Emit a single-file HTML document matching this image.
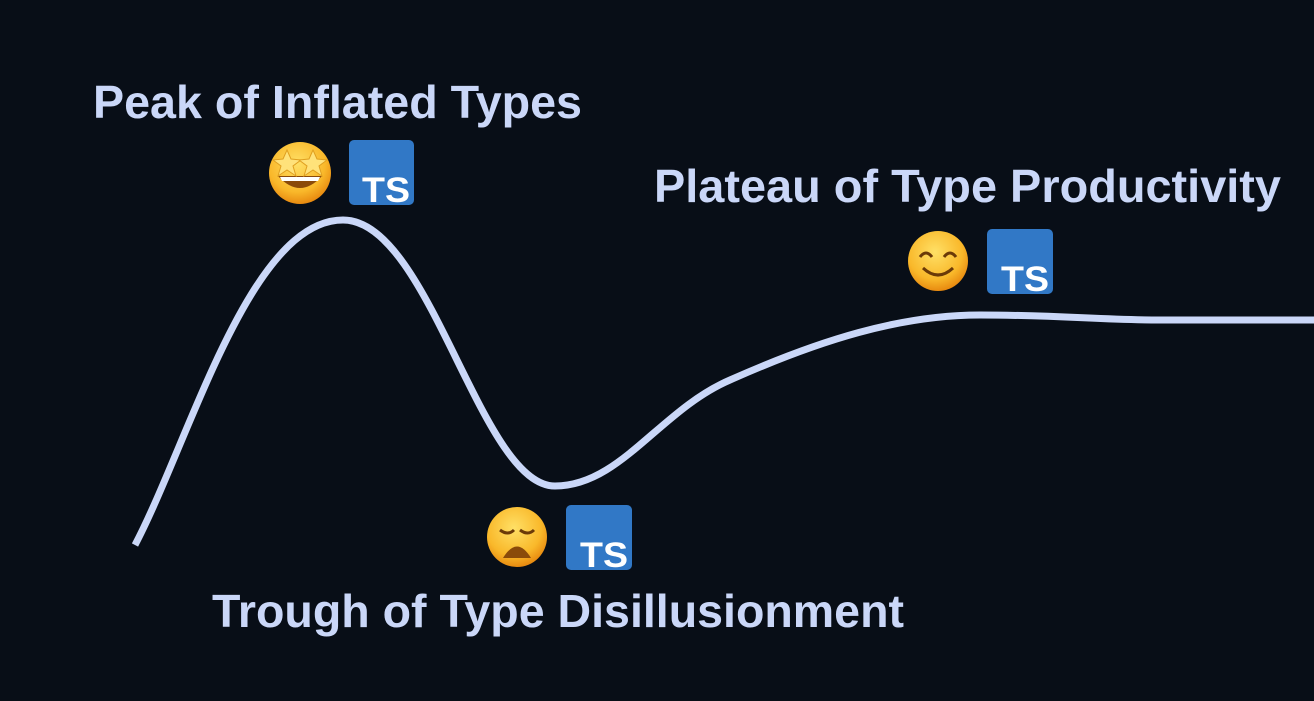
<!DOCTYPE html>
<html><head><meta charset="utf-8"><style>
html,body{margin:0;padding:0;background:#080e17;}
svg{display:block}
text{font-family:"Liberation Sans",sans-serif;font-weight:bold;fill:#cad7f8;}
.ts{font-family:"Liberation Sans",sans-serif;font-weight:bold;fill:#fff;font-size:35px}
</style></head><body>
<svg width="1314" height="701" viewBox="0 0 1314 701" xmlns="http://www.w3.org/2000/svg">
<defs>
<radialGradient id="g" cx="45%" cy="35%" r="65%">
<stop offset="0" stop-color="#ffe066"/><stop offset="0.7" stop-color="#f9b82a"/><stop offset="1" stop-color="#e88a10"/>
</radialGradient>
</defs>
<rect width="1314" height="701" fill="#080e17"/>
<path d="M135,545 C190,440 250,220 343,220 C430,220 480,486 555,486 C620,486 660,410 730,380 C820,340 900,315 980,315 C1060,315 1100,320 1160,320 L1314,320" fill="none" stroke="#cad7f8" stroke-width="7"/>
<text x="93" y="118" font-size="46" textLength="489" lengthAdjust="spacingAndGlyphs">Peak of Inflated Types</text>
<text x="654" y="202" font-size="46" textLength="627" lengthAdjust="spacingAndGlyphs">Plateau of Type Productivity</text>
<text x="212" y="627" font-size="46" textLength="692" lengthAdjust="spacingAndGlyphs">Trough of Type Disillusionment</text>
<!-- peak -->
<circle cx="300" cy="173" r="31" fill="url(#g)"/>
<path d="M278,176 Q300,200 322,176 Z" fill="#8a4a0a"/>
<path d="M280,177 L320,177 L318,181 L282,181Z" fill="#fff"/>
<polygon points="287,150 291,159 301,160 293,166 296,176 287,170 278,176 281,166 273,160 283,159" fill="#ffe27a" stroke="#e0a020"/>
<polygon points="313,150 317,159 327,160 319,166 322,176 313,170 304,176 307,166 299,160 309,159" fill="#ffe27a" stroke="#e0a020"/>
<rect x="349" y="140" width="65" height="65" rx="5" fill="#3178c6"/>
<text class="ts" x="362" y="202" textLength="48" lengthAdjust="spacingAndGlyphs">TS</text>
<!-- trough -->
<circle cx="517" cy="537" r="30" fill="url(#g)"/>
<path d="M503,558 Q517,535 531,558 Z" fill="#8a4a0a"/>
<path d="M500,530 q8,6 14,0 M520,530 q8,6 14,0" stroke="#6b3a08" stroke-width="3" fill="none"/>
<rect x="566" y="505" width="66" height="65" rx="5" fill="#3178c6"/>
<text class="ts" x="580" y="567" textLength="48" lengthAdjust="spacingAndGlyphs">TS</text>
<!-- plateau -->
<circle cx="938" cy="261" r="30" fill="url(#g)"/>
<path d="M920,257 q6,-8 12,0 M944,257 q6,-8 12,0" stroke="#6b3a08" stroke-width="3" fill="none"/>
<path d="M923,268 q15,14 30,0" stroke="#6b3a08" stroke-width="3" fill="none"/>
<rect x="987" y="229" width="66" height="65" rx="5" fill="#3178c6"/>
<text class="ts" x="1001" y="291" textLength="48" lengthAdjust="spacingAndGlyphs">TS</text>
</svg>
</body></html>
